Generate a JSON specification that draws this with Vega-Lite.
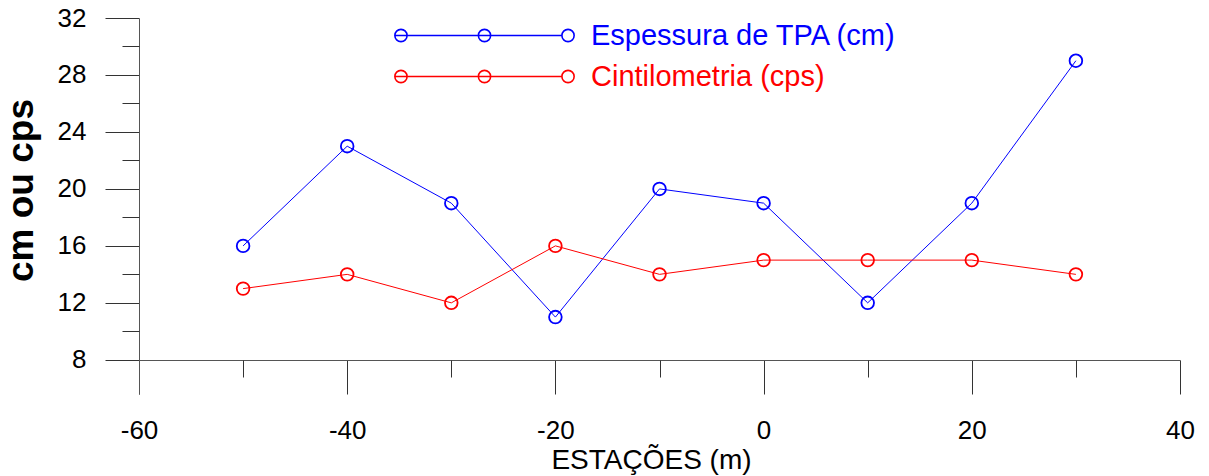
{
  "$schema": "https://vega.github.io/schema/vega-lite/v6.json",
  "width": 1041,
  "height": 376,
  "autosize": {"type": "none"},
  "padding": {"left": 139, "top": 18, "right": 29, "bottom": 82},
  "background": "white",
  "config": {
    "font": "Liberation Sans",
    "view": {"stroke": null},
    "axis": {"grid": false, "domainColor": "#555555", "tickColor": "#333333", "labelColor": "black", "titleColor": "black", "domainWidth": 1, "tickWidth": 1, "labelFlush": false, "labelOverlap": false}
  },
  "data": {
    "values": [
      {"estacao": -50, "serie": "Espessura de TPA (cm)", "valor": 16},
      {"estacao": -40, "serie": "Espessura de TPA (cm)", "valor": 23},
      {"estacao": -30, "serie": "Espessura de TPA (cm)", "valor": 19},
      {"estacao": -20, "serie": "Espessura de TPA (cm)", "valor": 11},
      {"estacao": -10, "serie": "Espessura de TPA (cm)", "valor": 20},
      {"estacao": 0, "serie": "Espessura de TPA (cm)", "valor": 19},
      {"estacao": 10, "serie": "Espessura de TPA (cm)", "valor": 12},
      {"estacao": 20, "serie": "Espessura de TPA (cm)", "valor": 19},
      {"estacao": 30, "serie": "Espessura de TPA (cm)", "valor": 29},
      {"estacao": -50, "serie": "Cintilometria (cps)", "valor": 13},
      {"estacao": -40, "serie": "Cintilometria (cps)", "valor": 14},
      {"estacao": -30, "serie": "Cintilometria (cps)", "valor": 12},
      {"estacao": -20, "serie": "Cintilometria (cps)", "valor": 16},
      {"estacao": -10, "serie": "Cintilometria (cps)", "valor": 14},
      {"estacao": 0, "serie": "Cintilometria (cps)", "valor": 15},
      {"estacao": 10, "serie": "Cintilometria (cps)", "valor": 15},
      {"estacao": 20, "serie": "Cintilometria (cps)", "valor": 15},
      {"estacao": 30, "serie": "Cintilometria (cps)", "valor": 14}
    ]
  },
  "resolve": {"scale": {"x": "shared", "y": "shared", "color": "shared"}, "axis": {"x": "independent", "y": "independent"}},
  "layer": [
    {
      "mark": {"type": "line", "strokeWidth": 1},
      "encoding": {
        "x": {
          "field": "estacao",
          "type": "quantitative",
          "scale": {"domain": [-60, 40], "nice": false, "zero": false},
          "axis": {
            "orient": "bottom",
            "values": [-60, -40, -20, 0, 20, 40],
            "labelExpr": "'' + datum.value",
            "labelFontSize": 26,
            "labelPadding": 23,
            "tickSize": 34,
            "offset": -34,
            "title": "ESTAÇÕES (m)",
            "titleFontSize": 28,
            "titleFontWeight": "normal",
            "titleAlign": "center",
            "titleBaseline": "top",
            "titleX": 512,
            "titleY": 86
          }
        },
        "y": {
          "field": "valor",
          "type": "quantitative",
          "scale": {"domain": [5.6, 32], "nice": false, "zero": false},
          "axis": {
            "orient": "left",
            "values": [8, 12, 16, 20, 24, 28, 32],
            "labelExpr": "'' + datum.value",
            "labelFontSize": 26,
            "labelPadding": 19,
            "tickSize": 34,
            "title": "cm ou cps",
            "titleFontSize": 37,
            "titleFontWeight": "bold",
            "titleAngle": -90,
            "titleAlign": "center",
            "titleBaseline": "alphabetic",
            "titleX": -107,
            "titleY": 172
          }
        },
        "color": {
          "field": "serie",
          "type": "nominal",
          "scale": {"domain": ["Espessura de TPA (cm)", "Cintilometria (cps)"], "range": ["#0000FF", "#FF0000"]},
          "legend": {
            "title": null,
            "orient": "none",
            "legendX": 331,
            "legendY": 3,
            "direction": "vertical",
            "symbolType": "M-14.64,0L12.64,0M-12.64,0A1,1 0 1,1 -14.64,0A1,1 0 1,1 -12.64,0M1,0A1,1 0 1,1 -1,0A1,1 0 1,1 1,0M14.64,0A1,1 0 1,1 12.64,0A1,1 0 1,1 14.64,0",
            "symbolSize": 150,
            "symbolStrokeWidth": 1.6,
            "symbolFillColor": "transparent",
            "labelFontSize": 29,
            "labelOffset": 92,
            "labelLimit": 600,
            "rowPadding": 11,
            "encode": {
              "labels": {"update": {"fill": {"scale": "color", "field": "value"}}},
              "symbols": {"update": {"stroke": {"scale": "color", "field": "value"}, "fill": {"value": "transparent"}}}
            }
          }
        }
      }
    },
    {
      "mark": {"type": "point", "shape": "circle", "filled": false, "size": 160, "strokeWidth": 1.8, "opacity": 1},
      "encoding": {
        "x": {
          "field": "estacao",
          "type": "quantitative",
          "axis": {
            "orient": "bottom",
            "values": [-50, -30, -10, 10, 30],
            "labels": false,
            "domain": false,
            "tickSize": 17,
            "offset": -34,
            "title": null
          }
        },
        "y": {
          "field": "valor",
          "type": "quantitative",
          "axis": {
            "orient": "left",
            "values": [10, 14, 18, 22, 26, 30],
            "labels": false,
            "domain": false,
            "tickSize": 17,
            "title": null
          }
        },
        "color": {"field": "serie", "type": "nominal", "legend": null}
      }
    }
  ]
}
